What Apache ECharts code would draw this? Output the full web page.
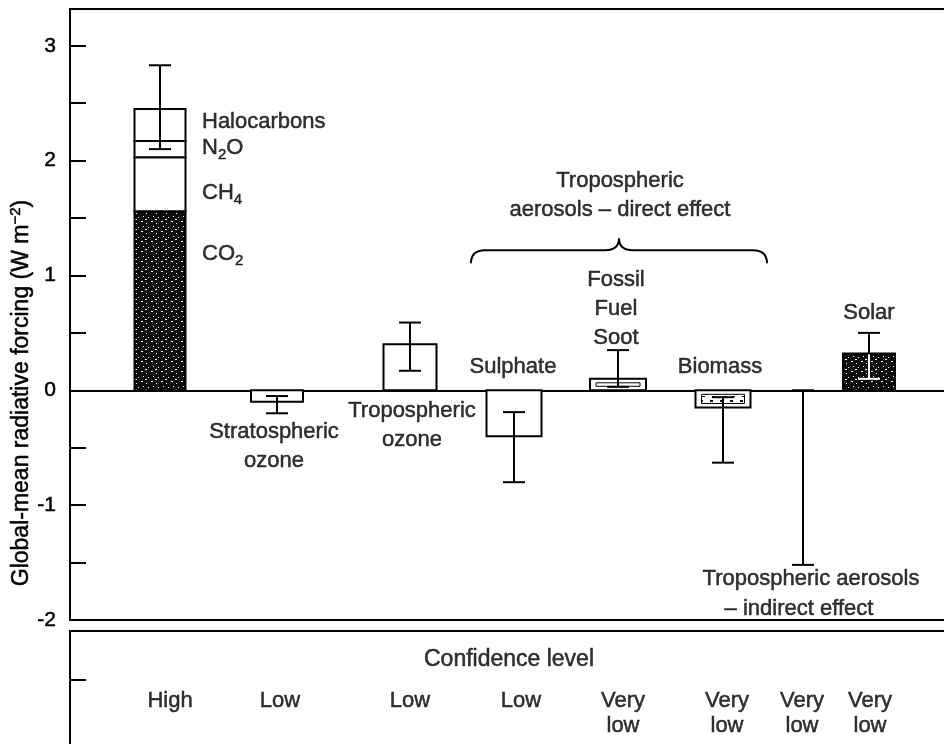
<!DOCTYPE html>
<html>
<head>
<meta charset="utf-8">
<title>Global-mean radiative forcing</title>
<script src="https://cdn.jsdelivr.net/npm/echarts@6/dist/echarts.min.js"></script>
<style>
html, body { margin: 0; padding: 0; background: #fff; }
#main { width: 944px; height: 744px; }
</style>
</head>
<body>
<div id="main"></div>
<script>
// greenhouse gases, stacked bottom to top
const gasNames = ['CO2', 'CH4', 'N2O', 'Halocarbons'];
const gasValues = [1.56, 0.47, 0.14, 0.28];
const gasRange = [2.1, 2.83];

// the other forcings (W m-2)
const forcingNames = ['Stratospheric ozone', 'Tropospheric ozone', 'Sulphate', 'Fossil fuel soot', 'Biomass', 'Tropospheric aerosols - indirect effect', 'Solar'];
const forcingValues = [-0.1, 0.4, -0.4, 0.1, -0.15, null, 0.32];
const forcingLow = [-0.2, 0.17, -0.8, 0.03, -0.63, -1.52, 0.1];
const forcingHigh = [-0.05, 0.59, -0.19, 0.35, -0.06, 0, 0.5];

const confidence = ['High', 'Low', 'Low', 'Low', 'Very\nlow', 'Very\nlow', 'Very\nlow', 'Very\nlow'];
const yTickLabels = ['-2', '-1', '0', '1', '2', '3'];

// layout (x axis runs in screen pixels)
const gasX = 160, gasW = 51;
const forcingX = [277, 410, 514, 618, 723, 803, 869];
const forcingW = [52, 53, 55, 56, 55, 0, 52];
const forcingFill = ['white', 'white', 'white', 'soot', 'biomass', 'none', 'dark'];
const confX = [170, 280, 410, 521, 623, 727, 802, 870];

const ink = '#000';
const font = "'Liberation Sans', Arial, sans-serif";

function speckle(bg, fg, pts) {
  const c = document.createElement('canvas');
  c.width = 10; c.height = 10;
  const g = c.getContext('2d');
  g.fillStyle = bg; g.fillRect(0, 0, 10, 10);
  g.fillStyle = fg;
  pts.forEach(p => g.fillRect(p[0], p[1], p[2] || 1, p[3] || 1));
  return c;
}
const darkFill = { image: speckle('#0c0c0c', '#fff', [[1, 1, 2], [6, 3], [3, 6], [8, 7], [5, 9, 2]]), repeat: 'repeat' };
const blotFill = { image: speckle('#fff', '#111', [[0, 0, 3, 2], [5, 3, 2, 2], [2, 6, 3, 1]]), repeat: 'repeat' };

// build stack rows
const gasRows = [];
let base = 0;
gasValues.forEach((v, i) => { gasRows.push([gasX, base, base + v, gasW, i]); base += v; });

const barRows = [];
forcingValues.forEach((v, i) => {
  if (v !== null) barRows.push([forcingX[i], 0, v, forcingW[i], i]);
});

const errRows = [[gasX, gasRange[0], gasRange[1], -1]];
forcingLow.forEach((lo, i) => errRows.push([forcingX[i], lo, forcingHigh[i], i]));

function rectOf(api, x, y0, y1, w) {
  const a = api.coord([x - w / 2, y0]);
  const b = api.coord([x + w / 2, y1]);
  return { x: Math.min(a[0], b[0]), y: Math.min(a[1], b[1]), width: Math.abs(b[0] - a[0]), height: Math.abs(b[1] - a[1]) };
}

function renderGas(params, api) {
  const r = rectOf(api, api.value(0), api.value(1), api.value(2), api.value(3));
  const i = api.value(4);
  return { type: 'rect', shape: r, style: { fill: i === 0 ? darkFill : '#fff', stroke: ink, lineWidth: 2 } };
}

function renderBar(params, api) {
  const r = rectOf(api, api.value(0), api.value(1), api.value(2), api.value(3));
  const kind = forcingFill[api.value(4)];
  const children = [{ type: 'rect', shape: r, style: { fill: kind === 'dark' ? darkFill : '#fff', stroke: ink, lineWidth: 2 } }];
  if (kind === 'soot' || kind === 'biomass') {
    children.push({ type: 'rect', shape: { x: r.x + 6, y: r.y + 4, width: r.width - 12, height: r.height - 8 },
      style: { fill: kind === 'biomass' ? blotFill : '#fff', stroke: ink, lineWidth: 1 } });
  }
  return { type: 'group', children: children };
}

function renderErr(params, api) {
  const x = api.value(0), lo = api.value(1), hi = api.value(2), i = api.value(3);
  const pLo = api.coord([x, lo]), pHi = api.coord([x, hi]);
  const cap = 11;
  let lowColor = ink;
  const children = [];
  if (i >= 0 && forcingFill[i] === 'dark') {
    const pTop = api.coord([x, forcingValues[i]]);
    lowColor = '#fff';
    children.push({ type: 'line', shape: { x1: pLo[0], y1: pLo[1], x2: pTop[0], y2: pTop[1] + 1 }, style: { stroke: '#fff', lineWidth: 2 } });
    children.push({ type: 'line', shape: { x1: pTop[0], y1: pTop[1], x2: pHi[0], y2: pHi[1] }, style: { stroke: ink, lineWidth: 2 } });
  } else {
    children.push({ type: 'line', shape: { x1: pLo[0], y1: pLo[1], x2: pHi[0], y2: pHi[1] }, style: { stroke: ink, lineWidth: 2 } });
  }
  children.push({ type: 'line', shape: { x1: pLo[0] - cap, y1: pLo[1], x2: pLo[0] + cap, y2: pLo[1] }, style: { stroke: lowColor, lineWidth: 2 } });
  children.push({ type: 'line', shape: { x1: pHi[0] - cap, y1: pHi[1], x2: pHi[0] + cap, y2: pHi[1] }, style: { stroke: ink, lineWidth: 2 } });
  return { type: 'group', children: children };
}

// curly brace over the direct aerosol effects
const braceSpan = [471, 767];
const braceLevel = [1.106, 1.22, 1.324];
function renderBrace(params, api) {
  const l = braceSpan[0], r = braceSpan[1], m = (l + r) / 2;
  const p = v => api.coord(v);
  const a = p([l, braceLevel[0]]), b = p([l + 14, braceLevel[1]]), c = p([m - 14, braceLevel[1]]), t = p([m, braceLevel[2]]);
  const d = p([m + 14, braceLevel[1]]), e = p([r - 14, braceLevel[1]]), f = p([r, braceLevel[0]]);
  const path = 'M' + a[0] + ' ' + a[1] + ' Q' + l + ' ' + b[1] + ' ' + b[0] + ' ' + b[1] +
    ' L' + c[0] + ' ' + c[1] + ' Q' + m + ' ' + c[1] + ' ' + t[0] + ' ' + t[1] +
    ' Q' + m + ' ' + d[1] + ' ' + d[0] + ' ' + d[1] + ' L' + e[0] + ' ' + e[1] +
    ' Q' + r + ' ' + e[1] + ' ' + f[0] + ' ' + f[1];
  return { type: 'path', shape: { pathData: path }, style: { fill: 'none', stroke: ink, lineWidth: 2 } };
}

const heavy = { textBorderColor: ink, textBorderWidth: 0.5 };
const rich = {
  t: Object.assign({ fontSize: 22, fontFamily: font, color: ink, lineHeight: 29 }, heavy),
  s: Object.assign({ fontSize: 15, fontFamily: font, color: ink, lineHeight: 15, verticalAlign: 'bottom' }, heavy)
};

// annotations: [text, x, y, align]
const notes = [
  ['{t|Halocarbons}', 202, 2.34, 'left'],
  ['{t|N}{s|2}{t|O}', 202, 2.11, 'left'],
  ['{t|CH}{s|4}', 202, 1.72, 'left'],
  ['{t|CO}{s|2}', 202, 1.19, 'left'],
  ['{t|Tropospheric}\n{t|aerosols – direct effect}', 620, 1.70, 'center'],
  ['{t|Fossil}\n{t|Fuel}\n{t|Soot}', 616, 0.71, 'center'],
  ['{t|Sulphate}', 513, 0.20, 'center'],
  ['{t|Biomass}', 720, 0.20, 'center'],
  ['{t|Solar}', 869, 0.67, 'center'],
  ['{t|Tropospheric}\n{t|ozone}', 412, -0.31, 'center'],
  ['{t|Stratospheric}\n{t|ozone}', 274, -0.49, 'center'],
  ['{t|Tropospheric aerosols}', 811, -1.64, 'center'],
  ['{t|– indirect effect}', 799, -1.90, 'center']
];

const chart = echarts.init(document.getElementById('main'), null, { renderer: 'canvas' });
chart.setOption({
  backgroundColor: '#fff',
  animation: false,
  textStyle: { fontFamily: font },
  grid: [
    { left: 70, width: 900, top: 9, height: 611, show: true, borderColor: ink, borderWidth: 2, outerBoundsMode: 'none', containLabel: false },
    { left: 70, width: 900, top: 631, height: 140, show: true, borderColor: ink, borderWidth: 2, outerBoundsMode: 'none', containLabel: false }
  ],
  xAxis: [
    { type: 'value', gridIndex: 0, min: 70, max: 970, show: true,
      axisLine: { show: true, onZero: true, lineStyle: { color: ink, width: 2 } },
      axisTick: { show: false }, axisLabel: { show: false }, splitLine: { show: false } },
    { type: 'value', gridIndex: 1, min: 70, max: 970, show: false }
  ],
  yAxis: [
    { type: 'value', gridIndex: 0, min: -2, max: 3.32, interval: 0.5,
      axisLine: { show: true, lineStyle: { color: ink, width: 2 } },
      axisTick: { show: true, inside: true, length: 16, lineStyle: { color: ink, width: 2 } },
      axisLabel: Object.assign({ margin: 14, fontSize: 21, color: ink, fontFamily: font,
        formatter: v => (Math.abs(v - Math.round(v)) < 1e-6 && yTickLabels.includes(String(Math.round(v)))) ? String(Math.round(v)) : '' }, heavy),
      splitLine: { show: false } },
    { type: 'value', gridIndex: 1, min: 0, max: 1,
      axisLine: { show: true, lineStyle: { color: ink, width: 2 } },
      axisTick: { show: true, inside: true, length: 16, customValues: [0.65], lineStyle: { color: ink, width: 2 } },
      axisLabel: { show: false }, splitLine: { show: false } }
  ],
  graphic: [{
    type: 'text', x: 22, y: 393, rotation: Math.PI / 2,
    style: {
      text: '{t|Global-mean radiative forcing (W m}{p|−2}{t|)}',
      align: 'center', verticalAlign: 'middle',
      rich: {
        t: { fontSize: 23, fontFamily: font, fill: ink, lineHeight: 28, stroke: ink, lineWidth: 0.5 },
        p: { fontSize: 15, fontFamily: font, fill: ink, lineHeight: 15, verticalAlign: 'top', stroke: ink, lineWidth: 0.5 }
      }
    }
  }],
  series: [
    { name: 'Greenhouse gases', type: 'custom', renderItem: renderGas, data: gasRows, z: 3 },
    { name: 'Forcings', type: 'custom', renderItem: renderBar, data: barRows, z: 3 },
    { name: 'Uncertainty', type: 'custom', renderItem: renderErr, data: errRows, z: 4 },
    { name: 'Brace', type: 'custom', renderItem: renderBrace, data: [[0]], z: 4 },
    { name: 'Notes', type: 'scatter', symbolSize: 0, z: 5,
      data: notes.map(n => ({ value: [n[1], n[2]],
        label: Object.assign({ show: true, position: 'inside', formatter: n[0], align: n[3], verticalAlign: 'middle', color: ink, rich: rich }, heavy) })) },
    { name: 'Confidence', type: 'scatter', xAxisIndex: 1, yAxisIndex: 1, symbolSize: 0, z: 5,
      data: confidence.map((c, i) => ({ value: [confX[i], 0.593],
        label: Object.assign({ show: true, position: 'inside', formatter: c, align: 'center', verticalAlign: 'top',
          fontSize: 22, lineHeight: 25, color: ink, fontFamily: font }, heavy) }))
        .concat([{ value: [509, 0.793], label: Object.assign({ show: true, position: 'inside', formatter: 'Confidence level',
          align: 'center', verticalAlign: 'middle', fontSize: 23, color: ink, fontFamily: font }, heavy) }]) }
  ]
});
</script>
</body>
</html>
